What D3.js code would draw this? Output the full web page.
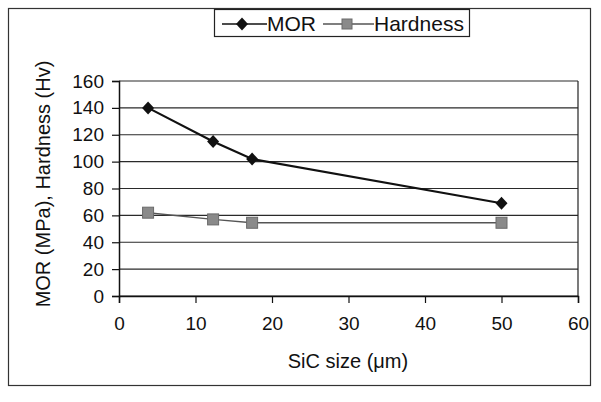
<!DOCTYPE html>
<html>
<head>
<title>MOR and Hardness vs SiC size</title>
<style>
  body { margin: 0; background: #fff; }
  text { font-family: "Liberation Sans", Arial, sans-serif; fill: #111; }
</style>
</head>
<body>
<div id="container"></div>
<script src="https://d3js.org/d3.v7.min.js"></script>
<script>
// values
const sicSize = [3.8, 12.3, 17.4, 50];
const morValues = [140, 115, 102, 69];
const hardnessValues = [62, 57, 54.5, 54.5];
const xTicks = [0, 10, 20, 30, 40, 50, 60];
const yTicks = [0, 20, 40, 60, 80, 100, 120, 140, 160];

const width = 601;
const height = 402;
const margin = {left: 119, right: 23, top: 81, bottom: 106};

const svg = d3.select("#container")
  .append("svg")
  .attr("width", width)
  .attr("height", height);

// outer frame
svg.append("rect")
  .attr("x", 8.5).attr("y", 8.5)
  .attr("width", 582).attr("height", 377)
  .style("fill", "none")
  .style("stroke", "#333")
  .style("stroke-width", 1.2);

const xScale = d3.scaleLinear()
  .domain([0, 60])
  .range([margin.left, width - margin.right]);

const yScale = d3.scaleLinear()
  .domain([0, 160])
  .range([height - margin.bottom, margin.top]);

// gridlines
svg.append("g")
  .selectAll("line")
  .data(yTicks)
  .enter().append("line")
    .attr("x1", xScale(0))
    .attr("x2", xScale(60))
    .attr("y1", d => yScale(d))
    .attr("y2", d => yScale(d))
    .style("stroke", "#2a2a2a")
    .style("stroke-width", 1.2);

// right edge of the plot area
svg.append("line")
  .attr("x1", xScale(60)).attr("x2", xScale(60))
  .attr("y1", yScale(0)).attr("y2", yScale(160))
  .style("stroke", "#222")
  .style("stroke-width", 1.2);

const xAxis = svg.append("g")
  .attr("transform", `translate(0, ${yScale(0)})`)
  .call(d3.axisBottom(xScale).tickValues(xTicks).tickSize(7).tickPadding(14));

const yAxis = svg.append("g")
  .attr("transform", `translate(${xScale(0)}, 0)`)
  .call(d3.axisLeft(yScale).tickValues(yTicks).tickSize(7).tickPadding(8));

[xAxis, yAxis].forEach(ax => {
  ax.select(".domain").style("stroke", "#111").style("stroke-width", 1.5);
  ax.selectAll(".tick line").style("stroke", "#111").style("stroke-width", 1.2);
  ax.selectAll(".tick text")
    .style("font-family", "'Liberation Sans', Arial, sans-serif")
    .style("font-size", "19px")
    .style("fill", "#111");
});

// axis titles
svg.append("text")
  .attr("x", 348)
  .attr("y", 368)
  .attr("text-anchor", "middle")
  .style("font-size", "20px")
  .text("SiC size (\u03bcm)");

svg.append("text")
  .attr("transform", `translate(50, 184) rotate(-90)`)
  .attr("text-anchor", "middle")
  .style("font-size", "20px")
  .text("MOR (MPa), Hardness (Hv)");

const line = d3.line()
  .x(d => xScale(d[0]))
  .y(d => yScale(d[1]));

const morData = sicSize.map((s, i) => [s, morValues[i]]);
const hardData = sicSize.map((s, i) => [s, hardnessValues[i]]);

svg.append("path")
  .attr("d", line(hardData))
  .style("fill", "none")
  .style("stroke", "#555")
  .style("stroke-width", 1.4);

svg.append("path")
  .attr("d", line(morData))
  .style("fill", "none")
  .style("stroke", "#111")
  .style("stroke-width", 2.2);

// diamond marker: square rotated 45 degrees
const diamondPath = "M0,-6.5L6,0L0,6.5L-6,0Z";

svg.append("g")
  .selectAll("rect")
  .data(hardData)
  .enter().append("rect")
    .attr("x", d => xScale(d[0]) - 5.5)
    .attr("y", d => yScale(d[1]) - 5.5)
    .attr("width", 11).attr("height", 11)
    .style("fill", "#8a8a8a")
    .style("stroke", "#6a6a6a");

svg.append("g")
  .selectAll("path")
  .data(morData)
  .enter().append("path")
    .attr("d", diamondPath)
    .attr("transform", d => `translate(${xScale(d[0])}, ${yScale(d[1])})`)
    .style("fill", "#111");

// legend
const legend = svg.append("g");
legend.append("rect")
  .attr("x", 214.5).attr("y", 9.5)
  .attr("width", 255).attr("height", 27)
  .style("fill", "#fff")
  .style("stroke", "#222")
  .style("stroke-width", 1.2);

legend.append("line")
  .attr("x1", 222).attr("x2", 267).attr("y1", 24).attr("y2", 24)
  .style("stroke", "#111").style("stroke-width", 1.5);
legend.append("path")
  .attr("d", diamondPath)
  .attr("transform", "translate(242, 24)")
  .style("fill", "#111");
legend.append("text")
  .attr("x", 267).attr("y", 31)
  .style("font-size", "21px")
  .text("MOR");

legend.append("line")
  .attr("x1", 323).attr("x2", 374).attr("y1", 24).attr("y2", 24)
  .style("stroke", "#555").style("stroke-width", 1.4);
legend.append("rect")
  .attr("x", 342).attr("y", 19).attr("width", 10).attr("height", 10)
  .style("fill", "#8a8a8a").style("stroke", "#6a6a6a");
legend.append("text")
  .attr("x", 374).attr("y", 31)
  .style("font-size", "21px")
  .text("Hardness");
</script>
</body>
</html>
